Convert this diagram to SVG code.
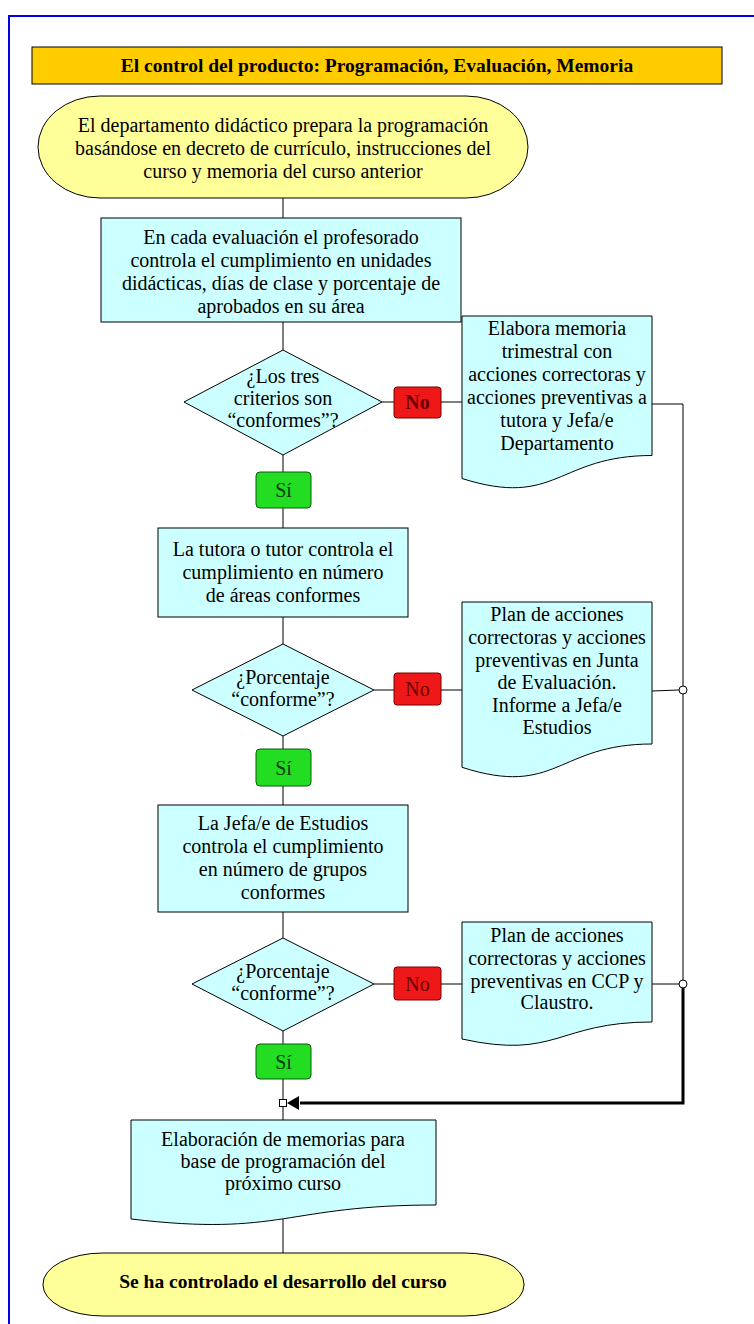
<svg xmlns="http://www.w3.org/2000/svg" width="754" height="1324" viewBox="0 0 754 1324">
  <style>
    .t { font-family: "Liberation Serif", "Times New Roman", serif; font-size: 20px; fill: #000; text-anchor: middle; }
    .b { font-weight: bold; font-size: 19.5px; }
    .term { fill: #FFFF99; stroke: #000; stroke-width: 1; }
    .proc { fill: #CCFFFF; stroke: #000; stroke-width: 1; }
    .no { fill: #EE1818; stroke: #7a0000; stroke-width: 1; }
    .si { fill: #22DD22; stroke: #0a5a0a; stroke-width: 1; }
    .not { fill: #6a0000; }
    .sit { fill: #0a3a0a; }
    .ln { fill: none; stroke: #000; stroke-width: 1; }
    .thick { fill: none; stroke: #000; stroke-width: 3; }
    .jn { fill: #fff; stroke: #000; stroke-width: 1; }
  </style>

  <rect width="754" height="1324" fill="#fff"/>
  <!-- page frame -->
  <rect x="9" y="16" width="800" height="1400" fill="none" stroke="#0000EE" stroke-width="2"/>

  <!-- connectors -->
  <g id="connectors">
    <line class="ln" x1="283" y1="198" x2="283" y2="218"/>
    <line class="ln" x1="283" y1="322" x2="283" y2="350"/>
    <line class="ln" x1="283" y1="455" x2="283" y2="472"/>
    <line class="ln" x1="283" y1="508" x2="283" y2="528"/>
    <line class="ln" x1="283" y1="617" x2="283" y2="644"/>
    <line class="ln" x1="283" y1="736" x2="283" y2="749"/>
    <line class="ln" x1="283" y1="786" x2="283" y2="805"/>
    <line class="ln" x1="283" y1="912" x2="283" y2="938"/>
    <line class="ln" x1="283" y1="1031" x2="283" y2="1044"/>
    <line class="ln" x1="283" y1="1079" x2="283" y2="1099"/>
    <line class="ln" x1="283" y1="1107" x2="283" y2="1120"/>
    <line class="ln" x1="283" y1="1219" x2="283" y2="1253"/>
    <!-- "No" branches -->
    <line class="ln" x1="382" y1="402" x2="394" y2="402"/>
    <line class="ln" x1="441" y1="402" x2="462" y2="402"/>
    <line class="ln" x1="374" y1="690" x2="394" y2="690"/>
    <line class="ln" x1="441" y1="690" x2="462" y2="690"/>
    <line class="ln" x1="374" y1="984" x2="394" y2="984"/>
    <line class="ln" x1="441" y1="984" x2="462" y2="984"/>
    <!-- return line on the right -->
    <polyline class="ln" points="652,404 683,404 683,984"/>
    <line class="ln" x1="652" y1="691" x2="679" y2="690"/>
    <line class="ln" x1="652" y1="984" x2="679" y2="984"/>
    <polyline class="thick" points="683,984 683,1103 300,1103"/>
    <path d="M299,1096 L287,1103 L299,1110 Z" fill="#000"/>
    <circle class="jn" cx="683" cy="690" r="4"/>
    <circle class="jn" cx="683" cy="984" r="4"/>
    <rect class="jn" x="279.5" y="1099.5" width="7" height="7"/>
  </g>

  <g id="title">
    <rect x="32" y="47" width="690" height="37" fill="#FFCC00" stroke="#000" stroke-width="1"/>
    <text class="t b" x="377" y="72" fill="#220000">El control del producto: Programación, Evaluación, Memoria</text>
  </g>

  <g id="start">
    <rect class="term" x="38" y="96" width="490" height="102" rx="62" ry="51"/>
    <text class="t" x="283" y="132">El departamento didáctico prepara la programación</text>
    <text class="t" x="283" y="155">basándose en decreto de currículo, instrucciones del</text>
    <text class="t" x="283" y="178">curso y memoria del curso anterior</text>
  </g>

  <g id="teacher-check">
    <rect class="proc" x="101" y="218" width="360" height="104"/>
    <text class="t" x="281" y="244">En cada evaluación el profesorado</text>
    <text class="t" x="281" y="267">controla el cumplimiento en unidades</text>
    <text class="t" x="281" y="290">didácticas, días de clase y porcentaje de</text>
    <text class="t" x="281" y="313">aprobados en su área</text>
  </g>

  <g id="decision-1">
    <polygon class="proc" points="283,350 382,402 283,455 184,402"/>
    <text class="t" x="283" y="383">¿Los tres</text>
    <text class="t" x="283" y="405">criterios son</text>
    <text class="t" x="283" y="427">“conformes”?</text>
  </g>

  <g id="no-1">
    <rect class="no" x="394" y="387" width="47" height="31" rx="3"/>
    <text class="t not" x="417.5" y="409" font-weight="bold">No</text>
  </g>

  <g id="memoria-trimestral">
    <path class="proc" d="M462,316 H652 V455.5 C557,455.5 557,508.6 462,478.5 Z"/>
    <text class="t" x="557" y="335">Elabora memoria</text>
    <text class="t" x="557" y="358">trimestral con</text>
    <text class="t" x="557" y="381">acciones correctoras y</text>
    <text class="t" x="557" y="404">acciones preventivas a</text>
    <text class="t" x="557" y="427">tutora y Jefa/e</text>
    <text class="t" x="557" y="450">Departamento</text>
  </g>

  <g id="si-1">
    <rect class="si" x="256" y="472" width="55" height="36" rx="4"/>
    <text class="t sit" x="283.5" y="497">Sí</text>
  </g>

  <g id="tutor-check">
    <rect class="proc" x="158" y="528" width="250" height="89"/>
    <text class="t" x="283" y="556">La tutora o tutor controla el</text>
    <text class="t" x="283" y="579">cumplimiento en número</text>
    <text class="t" x="283" y="602">de áreas conformes</text>
  </g>

  <g id="decision-2">
    <polygon class="proc" points="283,644 374,690 283,736 192,690"/>
    <text class="t" x="283" y="684">¿Porcentaje</text>
    <text class="t" x="283" y="706">“conforme”?</text>
  </g>

  <g id="no-2">
    <rect class="no" x="394" y="673" width="47" height="32" rx="3"/>
    <text class="t not" x="417.5" y="696">No</text>
  </g>

  <g id="plan-junta">
    <path class="proc" d="M462,602 H652 V744 C557,744 557,797.9 462,767.3 Z"/>
    <text class="t" x="557" y="621">Plan de acciones</text>
    <text class="t" x="557" y="644">correctoras y acciones</text>
    <text class="t" x="557" y="667">preventivas en Junta</text>
    <text class="t" x="557" y="689">de Evaluación.</text>
    <text class="t" x="557" y="712">Informe a Jefa/e</text>
    <text class="t" x="557" y="734">Estudios</text>
  </g>

  <g id="si-2">
    <rect class="si" x="256" y="749" width="55" height="37" rx="4"/>
    <text class="t sit" x="283.5" y="775">Sí</text>
  </g>

  <g id="jefatura-check">
    <rect class="proc" x="158" y="805" width="250" height="107"/>
    <text class="t" x="283" y="830">La Jefa/e de Estudios</text>
    <text class="t" x="283" y="853">controla el cumplimiento</text>
    <text class="t" x="283" y="876">en número de grupos</text>
    <text class="t" x="283" y="899">conformes</text>
  </g>

  <g id="decision-3">
    <polygon class="proc" points="283,938 374,984 283,1031 192,984"/>
    <text class="t" x="283" y="978">¿Porcentaje</text>
    <text class="t" x="283" y="1000">“conforme”?</text>
  </g>

  <g id="no-3">
    <rect class="no" x="394" y="967" width="47" height="33" rx="3"/>
    <text class="t not" x="417.5" y="991">No</text>
  </g>

  <g id="plan-ccp">
    <path class="proc" d="M462,922 H652 V1022 C557,1022 557,1060 462,1039 Z"/>
    <text class="t" x="557" y="942">Plan de acciones</text>
    <text class="t" x="557" y="965">correctoras y acciones</text>
    <text class="t" x="557" y="988">preventivas en CCP y</text>
    <text class="t" x="557" y="1009">Claustro.</text>
  </g>

  <g id="si-3">
    <rect class="si" x="256" y="1044" width="55" height="35" rx="4"/>
    <text class="t sit" x="283.5" y="1069">Sí</text>
  </g>

  <g id="memorias">
    <path class="proc" d="M131,1120 H436 V1205 C283.5,1205 283.5,1237 131,1219 Z"/>
    <text class="t" x="283" y="1146">Elaboración de memorias para</text>
    <text class="t" x="283" y="1168">base de programación del</text>
    <text class="t" x="283" y="1190">próximo curso</text>
  </g>

  <g id="end">
    <rect class="term" x="43" y="1253" width="481" height="63" rx="60" ry="31"/>
    <text class="t b" x="283" y="1288">Se ha controlado el desarrollo del curso</text>
  </g>
</svg>
